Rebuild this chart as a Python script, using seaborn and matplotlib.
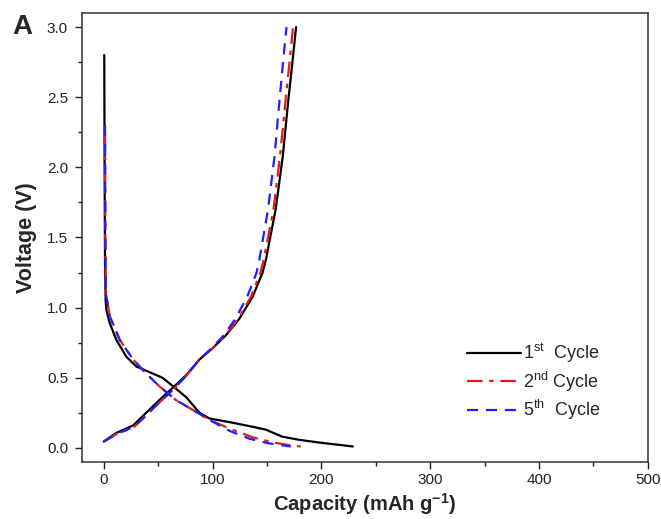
import seaborn as sns
import matplotlib.pyplot as plt
from matplotlib.lines import Line2D

# discharge / charge profiles (capacity mAh/g, voltage V)
dis1_cap = [0.5, 0.8, 1.2, 1.8, 2.5, 5.5, 11.6, 20.8, 30, 42, 54, 63.6, 76, 88, 97, 118, 137, 149, 164, 180, 198, 229]
dis1_v = [2.8, 2.0, 1.3, 1.05, 0.98, 0.89, 0.77, 0.65, 0.58, 0.54, 0.50, 0.44, 0.36, 0.25, 0.21, 0.18, 0.15, 0.13, 0.08, 0.057, 0.038, 0.01]
chg1_cap = [0, 11.6, 27, 39, 51, 63.6, 76, 88, 100, 112, 124.6, 137, 146, 149, 158, 164.6, 169, 173.7, 176.8]
chg1_v = [0.045, 0.107, 0.16, 0.25, 0.34, 0.43, 0.52, 0.63, 0.71, 0.80, 0.92, 1.08, 1.25, 1.34, 1.70, 2.08, 2.43, 2.77, 3.0]

dis2_cap = [1.2, 1.5, 2.0, 5.5, 14.7, 27, 39, 51, 66.5, 82, 97, 118, 137, 155, 170, 181]
dis2_v = [2.24, 1.5, 1.1, 0.94, 0.77, 0.63, 0.53, 0.44, 0.34, 0.27, 0.20, 0.13, 0.075, 0.04, 0.02, 0.01]
chg2_cap = [0, 12, 28, 40, 52, 64.5, 76.5, 88, 100, 111.5, 123.5, 135.5, 144, 147, 156, 162, 166.5, 171, 174]
chg2_v = [0.045, 0.10, 0.15, 0.24, 0.33, 0.42, 0.52, 0.63, 0.71, 0.80, 0.92, 1.08, 1.25, 1.34, 1.70, 2.08, 2.43, 2.77, 3.0]

dis5_cap = [1.2, 1.5, 2.0, 5.5, 14.7, 27, 39, 51, 66.5, 82, 97, 116, 134, 150, 162, 172]
dis5_v = [2.3, 1.5, 1.1, 0.94, 0.77, 0.63, 0.53, 0.44, 0.34, 0.27, 0.20, 0.12, 0.065, 0.035, 0.02, 0.01]
chg5_cap = [0, 12, 28, 40, 52, 64.5, 76.5, 88, 99, 110, 121, 132, 140.5, 143, 151, 157, 161, 165, 168]
chg5_v = [0.045, 0.10, 0.15, 0.24, 0.33, 0.42, 0.52, 0.63, 0.71, 0.80, 0.92, 1.08, 1.25, 1.34, 1.70, 2.08, 2.43, 2.77, 3.0]

labels = ["1$^{\\mathregular{st}}$  Cycle", "2$^{\\mathregular{nd}}$ Cycle", "5$^{\\mathregular{th}}$  Cycle"]
colors = ["black", "#e31a1c", "#1f1fff"]
dashes = [(None, None), (7, 3, 2, 3), (5, 3.5)]

sns.set_style("ticks")
plt.rcParams["font.family"] = ["Liberation Sans", "DejaVu Sans"]
plt.rcParams["mathtext.fontset"] = "custom"
plt.rcParams["mathtext.rm"] = "Liberation Sans"
plt.rcParams["mathtext.it"] = "Liberation Sans"
plt.rcParams["mathtext.bf"] = "Liberation Sans:bold"

fig = plt.figure(figsize=(6.61, 5.19), dpi=100)
ax = fig.add_axes([0.124, 0.110, 0.856, 0.865])

curves = [
    (dis1_cap, dis1_v, chg1_cap, chg1_v),
    (dis2_cap, dis2_v, chg2_cap, chg2_v),
    (dis5_cap, dis5_v, chg5_cap, chg5_v),
]
for i, (dc, dv, cc, cv) in enumerate(curves):
    for xs, ys in [(dc, dv), (cc, cv)]:
        line = sns.lineplot(x=xs, y=ys, sort=False, estimator=None, ax=ax,
                            color=colors[i], linewidth=1.6).lines[-1]
        if dashes[i][0] is not None:
            line.set_dashes(dashes[i])

handles = []
for i in range(3):
    h = Line2D([], [], color=colors[i], linewidth=1.6)
    if dashes[i][0] is not None:
        h.set_dashes(dashes[i])
    handles.append(h)
ax.legend(handles, labels, loc="lower right", bbox_to_anchor=(0.945, 0.052),
          frameon=False, fontsize=13, handlelength=3.0, handletextpad=0.1,
          labelspacing=0.25)

ax.set_xlim(-20, 500)
ax.set_ylim(-0.1, 3.1)
ax.set_xticks([0, 100, 200, 300, 400, 500])
ax.set_xticks([50, 150, 250, 350, 450], minor=True)
ax.set_yticks([0.0, 0.5, 1.0, 1.5, 2.0, 2.5, 3.0])
ax.set_yticks([0.25, 0.75, 1.25, 1.75, 2.25, 2.75], minor=True)
ax.set_yticklabels(["0.0", "0.5", "1.0", "1.5", "2.0", "2.5", "3.0"])
ax.tick_params(which="major", length=5, width=1, labelsize=11, colors="#222222")
ax.tick_params(axis="x", which="major", pad=3)
ax.tick_params(axis="y", which="major", pad=5)
ax.tick_params(which="minor", length=3, width=1, colors="#222222")
for s in ax.spines.values():
    s.set_linewidth(1.1)
    s.set_color("#333333")

ax.set_xlabel("Capacity (mAh g$^{\\mathbf{-1}}$)", fontsize=14.5, fontweight="bold", labelpad=3)
ax.set_ylabel("Voltage (V)", fontsize=15.5, fontweight="bold", labelpad=7)
fig.text(0.018, 0.935, "A", fontsize=20, fontweight="bold")

plt.savefig("out.png", dpi=100)
